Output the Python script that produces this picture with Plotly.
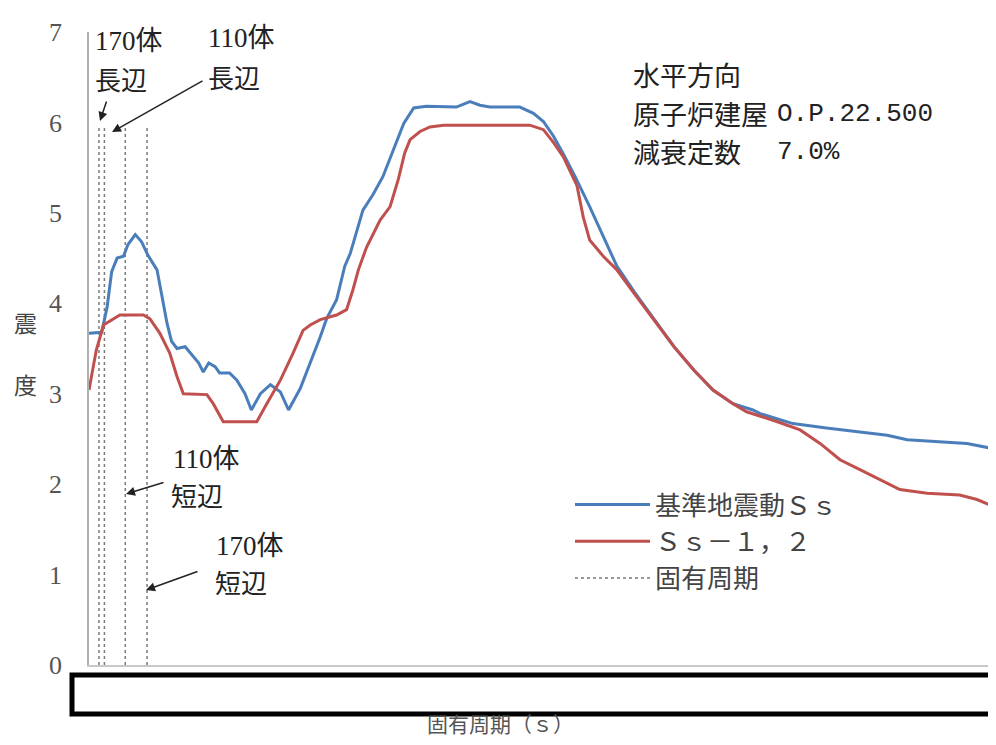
import plotly.graph_objects as go

# ---- data (period axis is hidden in the reference; values in normalised period units) ----
ss_period = [0.000, 0.014, 0.020, 0.025, 0.031, 0.038, 0.043, 0.051, 0.058, 0.065,
             0.075, 0.080, 0.086, 0.091, 0.097, 0.106, 0.113, 0.121, 0.126, 0.132,
             0.139, 0.144, 0.155, 0.163, 0.172, 0.179, 0.189, 0.200, 0.211, 0.220,
             0.233, 0.244, 0.255, 0.262, 0.273, 0.282, 0.288, 0.302, 0.313, 0.324,
             0.336, 0.347, 0.358, 0.372, 0.405, 0.420, 0.431, 0.442, 0.475, 0.490,
             0.501, 0.508, 0.512, 0.523, 0.536, 0.552, 0.571, 0.582, 0.601, 0.623,
             0.645, 0.667, 0.688, 0.710, 0.732, 0.740, 0.776, 0.813, 0.850, 0.880,
             0.902, 0.942, 0.968, 0.993, 1.000]
ss_value = [3.67, 3.68, 3.96, 4.35, 4.50, 4.52, 4.65, 4.76, 4.68, 4.53,
            4.37, 4.11, 3.78, 3.58, 3.50, 3.52, 3.43, 3.34, 3.24, 3.34,
            3.30, 3.23, 3.23, 3.15, 3.00, 2.82, 3.00, 3.10, 3.02, 2.82,
            3.06, 3.34, 3.63, 3.83, 4.04, 4.41, 4.55, 5.03, 5.20, 5.40,
            5.70, 5.99, 6.16, 6.18, 6.17, 6.23, 6.19, 6.17, 6.17, 6.10,
            6.01, 5.90, 5.85, 5.65, 5.40, 5.07, 4.66, 4.41, 4.13, 3.82,
            3.52, 3.26, 3.04, 2.89, 2.82, 2.78, 2.67, 2.62, 2.58, 2.54,
            2.49, 2.47, 2.45, 2.40, 2.38]

ss12_period = [0.000, 0.008, 0.016, 0.023, 0.034, 0.060, 0.067, 0.078, 0.089, 0.097,
               0.104, 0.130, 0.137, 0.148, 0.185, 0.196, 0.211, 0.225, 0.236, 0.244,
               0.255, 0.273, 0.284, 0.291, 0.297, 0.306, 0.321, 0.332, 0.341, 0.348,
               0.354, 0.365, 0.376, 0.391, 0.486, 0.501, 0.512, 0.523, 0.538, 0.545,
               0.552, 0.567, 0.582, 0.601, 0.623, 0.645, 0.667, 0.688, 0.710, 0.725,
               0.759, 0.784, 0.806, 0.828, 0.850, 0.872, 0.894, 0.924, 0.960, 0.979,
               1.000]
ss12_value = [3.04, 3.48, 3.76, 3.80, 3.87, 3.87, 3.83, 3.67, 3.45, 3.19,
              3.00, 2.99, 2.89, 2.69, 2.69, 2.89, 3.15, 3.45, 3.70, 3.76,
              3.82, 3.87, 3.93, 4.15, 4.37, 4.62, 4.92, 5.07, 5.37, 5.66,
              5.81, 5.90, 5.95, 5.97, 5.97, 5.92, 5.78, 5.62, 5.30, 4.95,
              4.70, 4.52, 4.37, 4.11, 3.82, 3.52, 3.26, 3.04, 2.89, 2.80,
              2.69, 2.60, 2.45, 2.27, 2.16, 2.05, 1.94, 1.90, 1.88, 1.83,
              1.74]

natural_periods = [0.011, 0.017, 0.040, 0.064]   # 170体長辺, 110体長辺, 110体短辺, 170体短辺
natural_top = 5.95

y_ticks = [0, 1, 2, 3, 4, 5, 6, 7]

series_names = ["基準地震動Ｓｓ", "Ｓｓ－１，２", "固有周期"]
info_lines = ["水平方向", "原子炉建屋", "減衰定数"]
info_values = ["", "O.P.22.500", "7.0%"]

# ---- layout geometry (screen pixels; page body has an 8px margin) ----
OFF = 8
W, H = 996 - 2 * OFF, 745 - 2 * OFF
SX0, SX1, SY0, SY1 = 89, 988, 32, 665          # plot area on screen
L, R, T, B = SX0 - OFF, 0, SY0 - OFF, H - (SY1 - OFF)
X_FULL = 907                                      # reference plot width (px) for period range 0..1

def px_x(sx):
    return (sx - SX0) / (SX1 - SX0)

def px_y(sy):
    return (SY1 - sy) / (SY1 - SY0)

CJK = "Noto Sans CJK JP"
TXT = "#222222"

fig = go.Figure()

# natural period dashed lines (one trace)
nx, ny = [], []
for p in natural_periods:
    nx += [p, p, None]
    ny += [0, natural_top, None]
fig.add_trace(go.Scatter(x=nx, y=ny, mode="lines", name=series_names[2],
                         line=dict(color="#7a7a7a", width=1.5, dash="3px,3px"),
                         legendrank=3, legendgroup="c"))
fig.add_trace(go.Scatter(x=ss_period, y=ss_value, mode="lines", name=series_names[0],
                         line=dict(color="#4a7ebb", width=3), legendrank=1, legendgroup="a"))
fig.add_trace(go.Scatter(x=ss12_period, y=ss12_value, mode="lines", name=series_names[1],
                         line=dict(color="#c0504d", width=3), legendrank=2, legendgroup="b"))

fig.update_layout(
    width=W, height=H,
    margin=dict(l=L, r=R, t=T, b=B),
    paper_bgcolor="white", plot_bgcolor="white",
    font=dict(family=CJK, color=TXT),
    showlegend=True,
    legend=dict(x=px_x(570), y=px_y(481), xanchor="left", yanchor="top",
                bgcolor="rgba(255,255,255,0)", font=dict(size=26, color="#444444", family=CJK),
                itemwidth=75, tracegroupgap=0, traceorder="grouped"),
    xaxis=dict(range=[0, (SX1 - SX0) / X_FULL], showgrid=False, zeroline=False,
               showticklabels=False, ticks="", showline=True, linecolor="#c8c8c8",
               linewidth=1.5),
    yaxis=dict(range=[0, 7], tickvals=y_ticks, showgrid=False, zeroline=False,
               ticks="", showline=True, linecolor="#b0b0b0", linewidth=1.5,
               tickfont=dict(family="Liberation Serif", size=26, color="#555555"),
               ticklabelstandoff=20),
)

def text(t, sx, sy, size=26, color=TXT, xanchor="left", family=CJK):
    fig.add_annotation(text=t, x=px_x(sx), y=px_y(sy), xref="paper", yref="paper",
                       xanchor=xanchor, yanchor="middle", showarrow=False,
                       font=dict(size=size, color=color, family=family))

def arrow(x0, y0, x1, y1):
    fig.add_annotation(text="", x=px_x(x1), y=px_y(y1), ax=px_x(x0), ay=px_y(y0),
                       xref="x domain", yref="y domain", axref="x domain", ayref="y domain",
                       showarrow=True, arrowhead=2, arrowsize=1.2, arrowwidth=1.5,
                       arrowcolor="#222222")

LAT = "Liberation Serif, " + CJK

# labels for natural periods
text("170体", 93, 41, 27, family=LAT)
text("長辺", 93, 79, 26)
text("110体", 206, 38, 27, family=LAT)
text("長辺", 206, 76, 26)
text("110体", 171, 459, 27, family=LAT)
text("短辺", 169, 494, 26)
text("170体", 214, 546, 27, family=LAT)
text("短辺", 213, 581, 26)

arrow(107, 100, 100, 121)
arrow(204, 80, 112, 132)
arrow(165, 482, 126, 494)
arrow(199, 571, 146, 590)

# info text
for i, (lab, val) in enumerate(zip(info_lines, info_values)):
    sy = 75 + 38.5 * i
    text(lab, 631, sy, 27)
    if val:
        text(val, 775, sy, 26, family="Liberation Mono")

# axis titles
text("震", 26, 322, 23, color="#444444", xanchor="center")
text("度", 26, 384, 23, color="#444444", xanchor="center")
text("固有周期（ｓ）", 500, 723, 21, color="#555555", xanchor="center")

# redaction box over the period axis labels
fig.add_shape(type="rect", xref="paper", yref="paper",
              x0=px_x(72), x1=px_x(1010), y0=px_y(675), y1=px_y(714),
              line=dict(color="black", width=5), fillcolor="white", layer="above")

fig.write_html("out.html")
